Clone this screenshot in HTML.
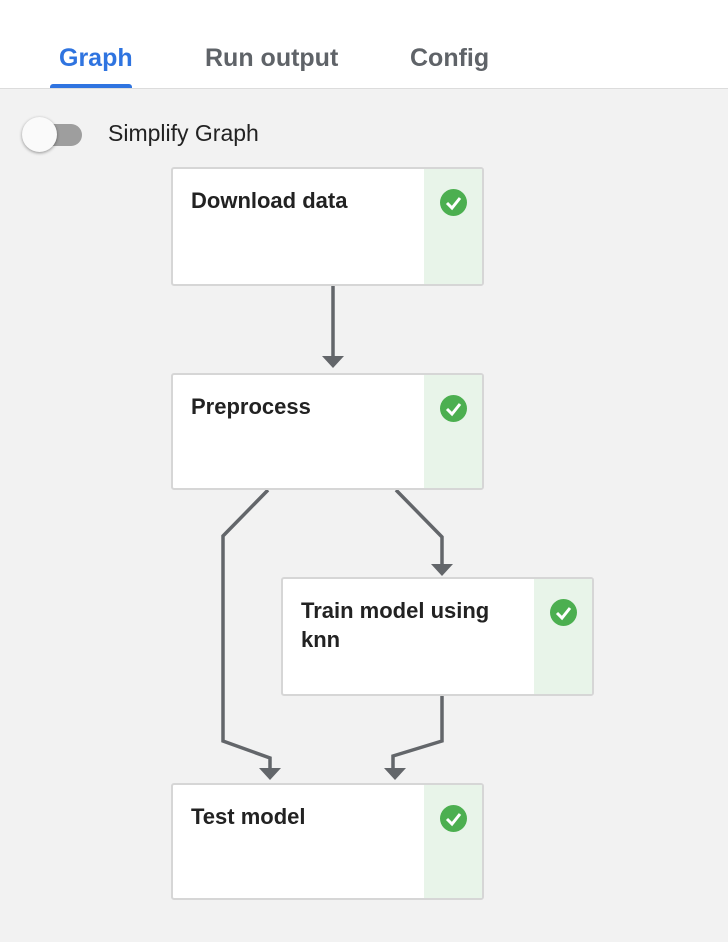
<!DOCTYPE html>
<html><head><style>
body{margin:0;width:728px;height:942px;background:#f2f2f2;font-family:"Liberation Sans",Arial,sans-serif;overflow:hidden;position:relative}
.top{position:absolute;left:0;top:0;width:728px;height:88px;background:#fff;border-bottom:1px solid #dcdcdc}
.tab{position:absolute;top:44px;font-size:25px;font-weight:bold;color:#5f6368}
.ul{position:absolute;left:50px;top:84px;width:82px;height:4px;background:#2f74e0;border-radius:3px 3px 0 0}
.track{position:absolute;left:34px;top:124px;width:48px;height:22px;border-radius:11px;background:#9e9e9e}
.knob{position:absolute;left:22px;top:117px;width:35px;height:35px;border-radius:50%;background:#fafafa;box-shadow:0 1px 3px rgba(0,0,0,.4)}
.lbl{position:absolute;left:108px;top:120px;font-size:23px;color:#222}
.node{position:absolute;background:#fff;border:2px solid #d6d6d6;border-radius:3px;box-sizing:border-box;overflow:hidden}
.node .g{position:absolute;right:0;top:0;bottom:0;width:58px;background:#e8f4e9}
.node .t{position:absolute;left:18px;top:17px;font-size:22px;font-weight:bold;color:#222;line-height:29px}
.chk{position:absolute;right:15px;top:20px;width:27px;height:27px;border-radius:50%;background:#4caf50}
</style></head><body>
<div class="top">
<div class="tab" style="left:59px;color:#2f74e0">Graph</div>
<div class="tab" style="left:205px">Run output</div>
<div class="tab" style="left:410px">Config</div>
<div class="ul"></div>
</div>
<div class="track"></div><div class="knob"></div>
<div class="lbl">Simplify Graph</div>

<svg width="728" height="942" style="position:absolute;left:0;top:0">
<g fill="none" stroke="#63666a" stroke-width="3.5">
<polyline points="333,286 333,356"/>
<polyline points="268,490 223,536 223,741 270,758 270,768"/>
<polyline points="396,490 442,537 442,564"/>
<polyline points="442,696 442,741 393,756 393,768"/>
</g>
<g fill="#63666a">
<polygon points="322,356 344,356 333,368"/>
<polygon points="259,768 281,768 270,780"/>
<polygon points="431,564 453,564 442,576"/>
<polygon points="384,768 406,768 395,780"/>
</g>
</svg>

<div class="node" style="left:171px;top:167px;width:313px;height:119px"><div class="g"></div><div class="t">Download data</div><svg class="chk" viewBox="0 0 27 27"><polyline points="7,14 12,19 20,9" fill="none" stroke="#fff" stroke-width="3"/></svg></div>
<div class="node" style="left:171px;top:373px;width:313px;height:117px"><div class="g"></div><div class="t">Preprocess</div><svg class="chk" viewBox="0 0 27 27"><polyline points="7,14 12,19 20,9" fill="none" stroke="#fff" stroke-width="3"/></svg></div>
<div class="node" style="left:281px;top:577px;width:313px;height:119px"><div class="g"></div><div class="t">Train model using<br>knn</div><svg class="chk" viewBox="0 0 27 27"><polyline points="7,14 12,19 20,9" fill="none" stroke="#fff" stroke-width="3"/></svg></div>
<div class="node" style="left:171px;top:783px;width:313px;height:117px"><div class="g"></div><div class="t">Test model</div><svg class="chk" viewBox="0 0 27 27"><polyline points="7,14 12,19 20,9" fill="none" stroke="#fff" stroke-width="3"/></svg></div>
</body></html>
